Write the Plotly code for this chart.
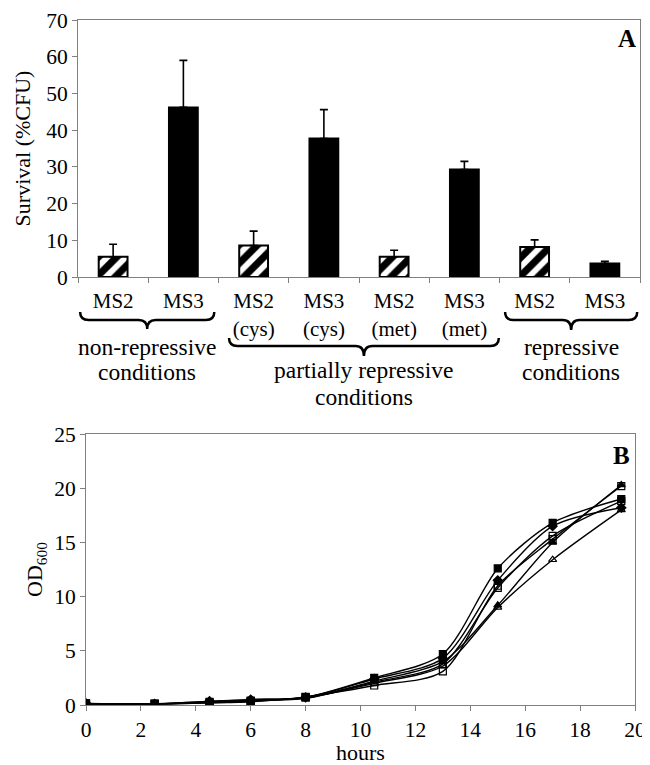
import plotly.graph_objects as go

# ---------------- Panel A data ----------------
cat_ids = ["c0", "c1", "c2", "c3", "c4", "c5", "c6", "c7"]
cat_labels = ["MS2", "MS3", "MS2<br>(cys)", "MS3<br>(cys)", "MS2<br>(met)", "MS3<br>(met)", "MS2", "MS3"]
survival = [5.5, 46.2, 8.6, 37.7, 5.5, 29.3, 8.2, 3.7]
survival_err = [3.4, 12.8, 3.9, 7.9, 1.8, 2.2, 1.9, 0.6]
strain = ["MS2", "MS3", "MS2", "MS3", "MS2", "MS3", "MS2", "MS3"]
groups = [(0, 1, ["non-repressive", "conditions"]),
          (2, 5, ["partially repressive", "conditions"]),
          (6, 7, ["repressive", "conditions"])]

# ---------------- Panel B data ----------------
hours = [0, 2.5, 4.5, 6, 8, 10.5, 13, 15, 17, 19.5]
od_s1 = [0.15, 0.12, 0.30, 0.40, 0.70, 2.5, 4.7, 12.6, 16.8, 19.0]
od_s2 = [0.12, 0.10, 0.20, 0.30, 0.75, 1.8, 3.1, 11.0, 15.3, 20.2]
od_s3 = [0.10, 0.10, 0.25, 0.45, 0.60, 2.2, 4.0, 9.2, 15.0, 20.3]
od_s4 = [0.10, 0.10, 0.30, 0.50, 0.65, 2.0, 3.6, 9.0, 13.4, 18.0]
od_s5 = [0.15, 0.10, 0.35, 0.50, 0.70, 2.4, 4.3, 11.5, 16.5, 18.2]
od_s6 = [0.10, 0.10, 0.20, 0.35, 0.70, 2.1, 3.8, 10.8, 15.6, 18.8]
od_series = [od_s1, od_s2, od_s3, od_s4, od_s5, od_s6]
od_symbols = ["square", "square-open", "triangle-up", "triangle-up-open", "diamond", "square-open"]

# page body has an 8px margin; size the figure so it fits the 650x765 window
OFF = 8
W, H = 650 - OFF, 765 - OFF
FONT = "Liberation Serif, Times New Roman, Times, serif"


def px(x):
    return (x - OFF) / W


def py(y):
    return 1 - (y - OFF) / H


fig = go.Figure()

# bars: MS2 hatched, MS3 solid black
for s in ["MS2", "MS3"]:
    idx = [i for i, v in enumerate(strain) if v == s]
    hatched = s == "MS2"
    fig.add_trace(go.Bar(
        x=[cat_ids[i] for i in idx],
        y=[survival[i] for i in idx],
        error_y=dict(type="data", symmetric=False,
                     array=[survival_err[i] for i in idx],
                     arrayminus=[0] * len(idx),
                     color="black", thickness=1.6, width=4),
        marker=dict(
            color="white" if hatched else "black",
            line=dict(color="black", width=2),
            pattern=dict(shape="/", fgcolor="black", bgcolor="white",
                         size=13, solidity=0.55) if hatched else None,
        ),
        width=0.41,
        xaxis="x", yaxis="y",
        showlegend=False,
    ))

for ys, sym in zip(od_series, od_symbols):
    fig.add_trace(go.Scatter(
        x=hours, y=ys, mode="lines+markers",
        line=dict(color="black", width=1.4, shape="spline", smoothing=0.8),
        marker=dict(symbol=sym, size=7, color="black",
                    line=dict(color="black", width=1.2)),
        xaxis="x2", yaxis="y2", showlegend=False,
    ))

axis_line = "#808080"
xtickfont = dict(family=FONT, size=21, color="black")
ytickfont = dict(family=FONT, size=21.5, color="black")
titlefont = dict(family=FONT, size=22, color="black")

common = dict(ticks="outside", ticklen=5, tickcolor=axis_line,
              showline=True, linecolor=axis_line, linewidth=1, mirror=True,
              showgrid=False, zeroline=False, automargin=False,
              ticklabeloverflow="allow")

fig.update_layout(
    template="none",
    width=W, height=H,
    margin=dict(l=0, r=0, t=0, b=0, pad=0),
    paper_bgcolor="white", plot_bgcolor="white",
    font=dict(family=FONT, size=22, color="black"),
    barmode="group",
    xaxis=dict(
        domain=[px(78), px(640)], anchor="y",
        type="category", categoryorder="array", categoryarray=cat_ids,
        tickmode="array", tickvals=cat_ids, ticktext=cat_labels,
        tickson="boundaries", range=[-0.5, 7.5], ticklabelstandoff=5,
        tickfont=xtickfont, **common,
    ),
    yaxis=dict(
        domain=[py(277), py(20)], anchor="x",
        range=[0, 70], dtick=10, tickfont=ytickfont,
        title=dict(text="Survival (%CFU)", font=titlefont, standoff=9), **common,
    ),
    xaxis2=dict(
        domain=[px(86), px(635)], anchor="y2",
        range=[0, 20], dtick=2, tickfont=ytickfont,
        title=dict(text="hours", font=titlefont, standoff=0), **common,
    ),
    yaxis2=dict(
        domain=[py(705), py(434)], anchor="x2",
        range=[0, 25], dtick=5, tickfont=ytickfont,
        title=dict(text="OD<sub>600</sub>", font=titlefont, standoff=5), **common,
    ),
)

# braces and group labels (padding beyond the outer categories, in category units)
brace_pad = {0: (0.47, 0.44), 1: (0.35, 0.49), 2: (0.42, 0.46)}
brace_geom = {0: (312, 320, 329), 1: (338, 346, 356), 2: (312, 320, 330)}
label_lines_y = {0: (347, 372), 1: (370, 397), 2: (347, 372)}
for gi, (lo, hi, lines) in enumerate(groups):
    ytop, ymid, ytip = brace_geom[gi]
    x0 = lo - brace_pad[gi][0]
    x1 = hi + brace_pad[gi][1]
    xm = (x0 + x1) / 2
    r = 0.12
    path = (f"M {x0},{py(ytop)} Q {x0},{py(ymid)} {x0 + r},{py(ymid)} "
            f"L {xm - r},{py(ymid)} Q {xm},{py(ymid)} {xm},{py(ytip)} "
            f"Q {xm},{py(ymid)} {xm + r},{py(ymid)} "
            f"L {x1 - r},{py(ymid)} Q {x1},{py(ymid)} {x1},{py(ytop)}")
    fig.add_shape(type="path", path=path, xref="x", yref="paper",
                  line=dict(color="black", width=2.5))
    for line_text, ly in zip(lines, label_lines_y[gi]):
        fig.add_annotation(x=xm, y=py(ly), xref="x", yref="paper",
                           text=line_text, showarrow=False, yanchor="middle",
                           font=dict(family=FONT, size=23.5, color="black"))

fig.add_annotation(x=px(638), y=py(38), xref="paper", yref="paper", text="<b>A</b>",
                   showarrow=False, xanchor="right", yanchor="middle",
                   font=dict(family=FONT, size=25, color="black"))
fig.add_annotation(x=px(632), y=py(455), xref="paper", yref="paper", text="<b>B</b>",
                   showarrow=False, xanchor="right", yanchor="middle",
                   font=dict(family=FONT, size=25, color="black"))

fig.write_html("out.html")
